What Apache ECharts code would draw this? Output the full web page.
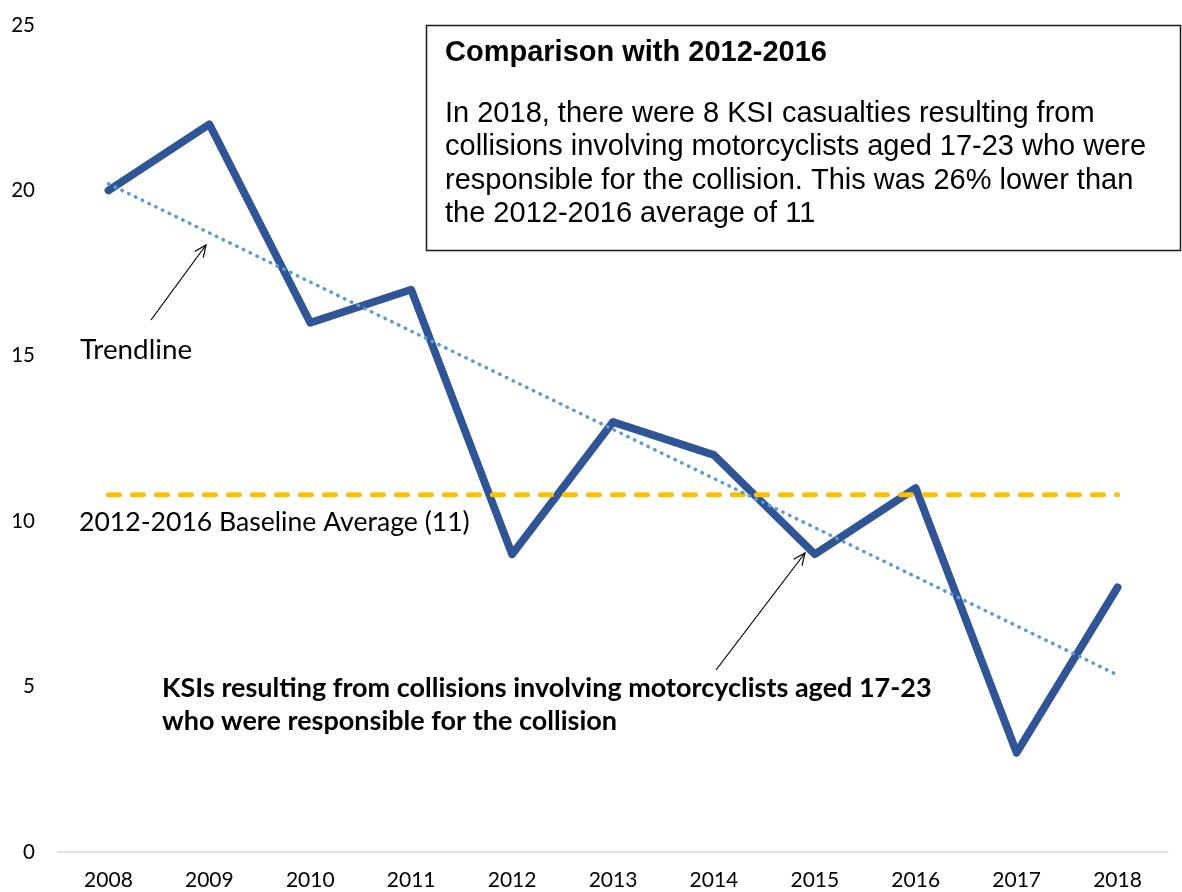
<!DOCTYPE html>
<html>
<head>
<meta charset="utf-8">
<script src="https://cdn.jsdelivr.net/npm/echarts@6/dist/echarts.min.js"></script>
<style>
  html, body { margin: 0; padding: 0; background: #fff; }
  #chart { width: 1182px; height: 892px; }
</style>
</head>
<body>
<div id="chart"></div>
<script>
// Years on the x axis
const years = ['2008', '2009', '2010', '2011', '2012', '2013', '2014', '2015', '2016', '2017', '2018'];
// KSIs from collisions involving responsible motorcyclists aged 17-23
const ksiValues = [20, 22, 16, 17, 9, 13, 12, 9, 11, 3, 8];
// Linear trendline value at the first and last year
const trendEnds = [20.2, 5.35];
// 2012-2016 baseline average
const baselineAvg = 10.8;
// Y axis ticks
const yTicks = [0, 5, 10, 15, 20, 25];

const chart = echarts.init(document.getElementById('chart'));

const lastIdx = years.length - 1;
const endpoints = (a, b) => years.map((_, i) => (i === 0 ? a : i === lastIdx ? b : null));

const calibriLike = 'Lato, "Open Sans", sans-serif';
const arialLike = '"Liberation Sans", Arial, sans-serif';

function arrow(x1, y1, x2, y2) {
  const ang = Math.atan2(y2 - y1, x2 - x1);
  const len = 13, spread = 0.42;
  const p1 = [x2 - len * Math.cos(ang - spread), y2 - len * Math.sin(ang - spread)];
  const p2 = [x2 - len * Math.cos(ang + spread), y2 - len * Math.sin(ang + spread)];
  return [
    { type: 'line', shape: { x1, y1, x2, y2 }, style: { stroke: '#000', lineWidth: 1.2 }, z: 100 },
    { type: 'polyline', shape: { points: [p1, [x2, y2], p2] }, style: { stroke: '#000', lineWidth: 1.2, fill: null }, z: 100 }
  ];
}

const option = {
  backgroundColor: '#fff',
  animation: false,
  grid: { left: 58, right: 14, top: 25, bottom: 40, containLabel: false },
  xAxis: {
    type: 'category',
    data: years,
    boundaryGap: true,
    axisLine: { lineStyle: { color: '#D9D9D9', width: 1.5 } },
    axisTick: { show: false },
    axisLabel: { color: '#000', fontFamily: calibriLike, fontSize: 21, margin: 18 }
  },
  yAxis: {
    type: 'value',
    min: yTicks[0],
    max: yTicks[yTicks.length - 1],
    interval: yTicks[1] - yTicks[0],
    axisLine: { show: false },
    axisTick: { show: false },
    splitLine: { show: false },
    axisLabel: { color: '#000', fontFamily: calibriLike, fontSize: 20.5, margin: 23 }
  },
  series: [
    {
      name: 'KSIs',
      type: 'line',
      data: ksiValues,
      symbol: 'none',
      lineStyle: { color: '#2F5597', width: 7.8, cap: 'round', join: 'round' },
      z: 2
    },
    {
      name: 'Baseline',
      type: 'line',
      data: endpoints(baselineAvg, baselineAvg),
      connectNulls: true,
      symbol: 'none',
      lineStyle: { color: '#FFC000', width: 5, type: [11, 13], cap: 'round' },
      z: 3
    },
    {
      name: 'Trendline',
      type: 'line',
      data: endpoints(trendEnds[0], trendEnds[1]),
      connectNulls: true,
      symbol: 'none',
      lineStyle: { color: '#5B9BD5', width: 3.5, type: [0.5, 7], cap: 'round' },
      z: 4
    }
  ],
  graphic: [
    {
      type: 'rect',
      shape: { x: 426.5, y: 25.5, width: 754, height: 225 },
      style: { fill: '#fff', stroke: '#1a1a1a', lineWidth: 1.5 },
      z: 50
    },
    {
      type: 'text', x: 445, y: 53, z: 51,
      style: { text: 'Comparison with 2012-2016', font: 'bold 29px ' + arialLike, fill: '#000', verticalAlign: 'middle' }
    },
    {
      type: 'text', x: 445, y: 97, z: 51,
      style: {
        text: 'In 2018, there were 8 KSI casualties resulting from\ncollisions involving motorcyclists aged 17-23 who were\nresponsible for the collision. This was 26% lower than\nthe 2012-2016 average of 11',
        font: '29px ' + arialLike, fill: '#000', lineHeight: 33.4, verticalAlign: 'top'
      }
    },
    {
      type: 'text', x: 80, y: 350, z: 51,
      style: { text: 'Trendline', font: '27.8px ' + calibriLike, fill: '#000', verticalAlign: 'middle' }
    },
    {
      type: 'text', x: 79, y: 522, z: 51,
      style: { text: '2012-2016 Baseline Average (11)', font: '26.6px ' + calibriLike, fill: '#000', verticalAlign: 'middle' }
    },
    {
      type: 'text', x: 162, y: 672.5, z: 51,
      style: {
        text: 'KSIs resulting from collisions involving motorcyclists aged 17-23\nwho were responsible for the collision',
        font: 'bold 27px ' + calibriLike, fill: '#000', lineHeight: 32.5, verticalAlign: 'top'
      }
    },
    ...arrow(151, 320, 206, 245),
    ...arrow(716, 670, 805, 553)
  ]
};

chart.setOption(option);
</script>
</body>
</html>
